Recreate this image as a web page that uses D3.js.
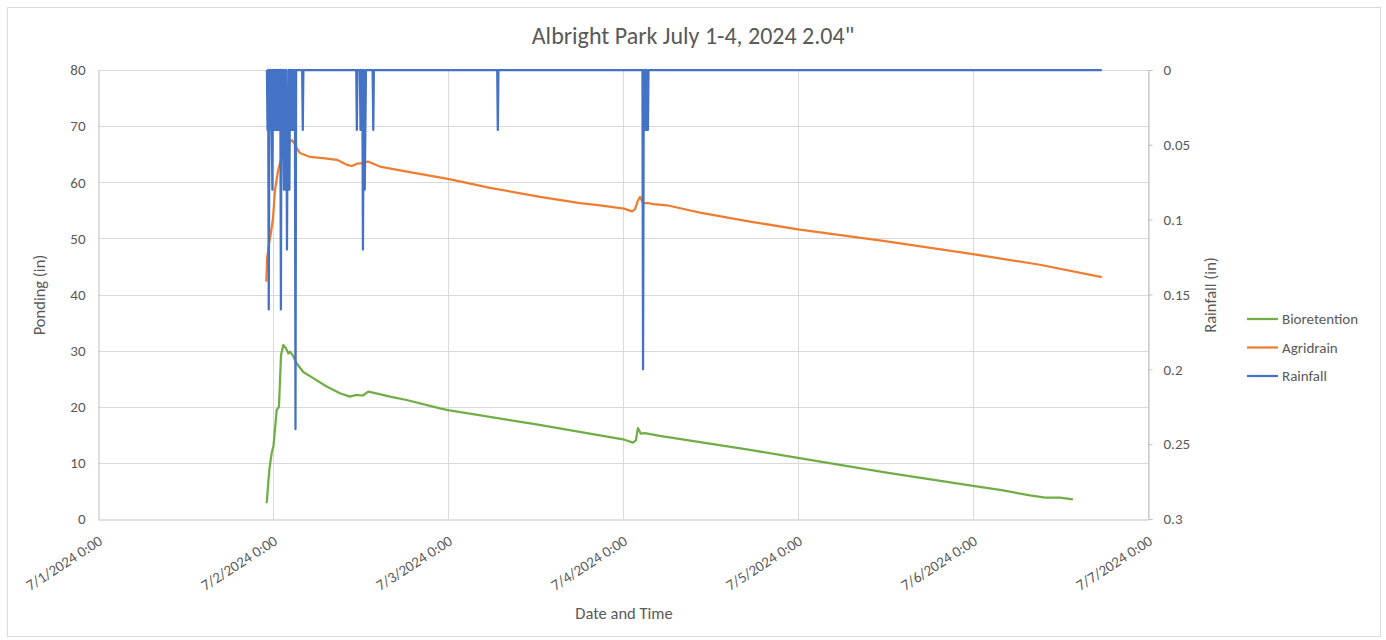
<!DOCTYPE html>
<html>
<head>
<meta charset="utf-8">
<script src="https://cdn.jsdelivr.net/npm/d3@7"></script>
<style>
  html, body { margin: 0; padding: 0; background: #fff; }
  svg { display: block; font-family: Calibri, Carlito, Lato, "Liberation Sans", sans-serif; }
</style>
</head>
<body>
<svg id="chart" width="1386" height="640"></svg>
<script>
// ---------- DATA ----------
const chartTitle = 'Albright Park July 1-4, 2024 2.04"';
const xTickDates = ["7/1/2024 0:00","7/2/2024 0:00","7/3/2024 0:00","7/4/2024 0:00","7/5/2024 0:00","7/6/2024 0:00","7/7/2024 0:00"];
const leftTicks = [0,10,20,30,40,50,60,70,80];
const rightTicks = [0,0.05,0.1,0.15,0.2,0.25,0.3];
const seriesNames = ["Bioretention","Agridrain","Rainfall"];

const bioTimes = ["7/1/2024 23:08","7/1/2024 23:21","7/1/2024 23:31","7/1/2024 23:49","7/2/2024 0:04","7/2/2024 0:16","7/2/2024 0:30","7/2/2024 0:49","7/2/2024 1:06","7/2/2024 1:25","7/2/2024 1:47","7/2/2024 2:07","7/2/2024 2:20","7/2/2024 2:42","7/2/2024 3:15","7/2/2024 4:09","7/2/2024 5:31","7/2/2024 7:21","7/2/2024 9:11","7/2/2024 10:33","7/2/2024 11:28","7/2/2024 12:20","7/2/2024 13:04","7/2/2024 13:43","7/2/2024 16:03","7/2/2024 18:20","7/2/2024 22:54","7/3/2024 0:00","7/3/2024 11:56","7/4/2024 0:00","7/4/2024 1:22","7/4/2024 1:46","7/4/2024 2:03","7/4/2024 2:27","7/4/2024 3:00","7/4/2024 5:03","7/4/2024 10:34","7/4/2024 17:25","7/5/2024 0:00","7/5/2024 11:56","7/6/2024 0:00","7/6/2024 3:42","7/6/2024 7:50","7/6/2024 9:53","7/6/2024 11:57","7/6/2024 13:42"];
const bioValues = [2.8,6.4,9.0,11.7,13.0,15.9,19.4,20.0,29.2,31.0,30.4,29.5,29.8,29.2,27.7,26.2,25.1,23.6,22.4,21.8,22.1,22.0,22.7,22.5,21.8,21.2,19.7,19.4,16.9,14.2,13.6,14.0,16.2,15.2,15.3,14.8,13.7,12.3,10.9,8.3,5.9,5.2,4.2,3.8,3.8,3.5];

const agriTimes = ["7/1/2024 23:05","7/1/2024 23:12","7/1/2024 23:27","7/1/2024 23:43","7/2/2024 0:00","7/2/2024 0:16","7/2/2024 0:41","7/2/2024 1:22","7/2/2024 1:55","7/2/2024 2:36","7/2/2024 2:53","7/2/2024 3:18","7/2/2024 3:42","7/2/2024 5:05","7/2/2024 6:51","7/2/2024 8:46","7/2/2024 10:08","7/2/2024 10:49","7/2/2024 11:31","7/2/2024 12:20","7/2/2024 13:01","7/2/2024 14:40","7/2/2024 18:22","7/3/2024 0:00","7/3/2024 5:46","7/3/2024 12:37","7/3/2024 18:07","7/3/2024 20:51","7/4/2024 0:09","7/4/2024 1:15","7/4/2024 1:39","7/4/2024 2:04","7/4/2024 2:20","7/4/2024 2:45","7/4/2024 3:26","7/4/2024 4:07","7/4/2024 6:02","7/4/2024 8:47","7/4/2024 10:34","7/4/2024 17:25","7/5/2024 0:00","7/5/2024 11:56","7/6/2024 0:00","7/6/2024 9:10","7/6/2024 17:40"];
const agriValues = [42.3,46.5,49.0,51.0,53.5,58.5,62.0,65.5,67.0,67.5,67.0,66.0,65.2,64.5,64.3,64.0,63.1,62.9,63.3,63.4,63.7,62.8,61.9,60.6,59.0,57.4,56.3,55.9,55.3,54.8,55.2,56.8,57.4,56.3,56.3,56.1,55.9,55.1,54.6,53.0,51.6,49.5,47.2,45.3,43.1];

const rainTimes = [
 "7/1/2024 23:10","7/1/2024 23:15","7/1/2024 23:20","7/1/2024 23:25","7/1/2024 23:30","7/1/2024 23:35","7/1/2024 23:40","7/1/2024 23:45","7/1/2024 23:50","7/1/2024 23:55",
 "7/2/2024 0:00","7/2/2024 0:05","7/2/2024 0:10","7/2/2024 0:15","7/2/2024 0:20","7/2/2024 0:25","7/2/2024 0:30","7/2/2024 0:35","7/2/2024 0:40","7/2/2024 0:45","7/2/2024 0:50","7/2/2024 0:55",
 "7/2/2024 1:00","7/2/2024 1:05","7/2/2024 1:10","7/2/2024 1:15","7/2/2024 1:20","7/2/2024 1:25","7/2/2024 1:30","7/2/2024 1:35","7/2/2024 1:40","7/2/2024 1:45","7/2/2024 1:50","7/2/2024 1:55",
 "7/2/2024 2:00","7/2/2024 2:05","7/2/2024 2:10","7/2/2024 2:15","7/2/2024 2:20","7/2/2024 2:25","7/2/2024 2:30","7/2/2024 2:35","7/2/2024 2:40","7/2/2024 2:45","7/2/2024 2:50",
 "7/2/2024 3:00","7/2/2024 3:05","7/2/2024 3:10","7/2/2024 4:00","7/2/2024 4:05","7/2/2024 4:10",
 "7/2/2024 11:25","7/2/2024 11:30","7/2/2024 11:35","7/2/2024 11:55","7/2/2024 12:00","7/2/2024 12:05","7/2/2024 12:10","7/2/2024 12:15","7/2/2024 12:20","7/2/2024 12:25","7/2/2024 12:30","7/2/2024 12:35","7/2/2024 12:40","7/2/2024 12:45",
 "7/2/2024 13:40","7/2/2024 13:45","7/2/2024 13:50",
 "7/3/2024 6:45","7/3/2024 6:50","7/3/2024 6:55",
 "7/4/2024 2:40","7/4/2024 2:45","7/4/2024 2:50","7/4/2024 2:55","7/4/2024 3:00","7/4/2024 3:05","7/4/2024 3:10","7/4/2024 3:15","7/4/2024 3:20","7/4/2024 3:25","7/4/2024 3:30",
 "7/6/2024 17:40"];
const rainValues = [
 0,0.04,0,0.16,0.04,0,0.04,0,0.04,0.08,
 0,0.04,0,0.04,0,0.04,0,0.04,0,0.04,0,0.04,
 0,0.16,0,0.04,0,0.04,0.08,0,0.08,0.04,0,0.12,
 0.04,0.08,0,0.08,0,0.04,0,0.04,0,0.04,0,
 0,0.24,0,0,0.04,0,
 0,0.04,0,0,0.04,0,0.04,0,0.12,0.04,0,0.08,0.04,0,
 0,0.04,0,
 0,0.04,0,
 0,0.2,0.04,0,0.04,0,0.04,0,0.04,0.04,0,
 0];

// ---------- CHART ----------
const parse = d3.timeParse("%m/%d/%Y %H:%M");
const fmt = d3.timeFormat("%-m/%-d/%Y %-H:%M");
const svg = d3.select("#chart");
const W = 1386, H = 640;
const plot = {left: 98, right: 1148, top: 70, bottom: 519};
const textColor = "#595959";
const gridColor = "#d9d9d9";
const fontFam = "Calibri, Carlito, Lato, 'Liberation Sans', sans-serif";
const colors = {Bioretention: "#70AD47", Agridrain: "#ED7D31", Rainfall: "#4472C4"};

svg.append("rect").attr("x", 7.5).attr("y", 7.5).attr("width", W - 13).attr("height", H - 11)
  .attr("fill", "#fff").attr("stroke", gridColor);

const x = d3.scaleTime().domain([parse(xTickDates[0]), parse(xTickDates[xTickDates.length - 1])]).range([plot.left, plot.right]);
const yL = d3.scaleLinear().domain([0, 80]).range([plot.bottom, plot.top]);
const yR = d3.scaleLinear().domain([0, 0.3]).range([plot.top, plot.bottom]);

// gridlines
const g = svg.append("g");
g.selectAll(".hg").data(leftTicks.slice(1)).join("line")
  .attr("x1", plot.left).attr("x2", plot.right)
  .attr("y1", d => Math.round(yL(d)) + 0.5).attr("y2", d => Math.round(yL(d)) + 0.5)
  .attr("stroke", gridColor).attr("stroke-width", 1);
g.selectAll(".vg").data(xTickDates.slice(1)).join("line")
  .attr("x1", d => Math.round(x(parse(d))) + 0.5).attr("x2", d => Math.round(x(parse(d))) + 0.5)
  .attr("y1", plot.top).attr("y2", plot.bottom)
  .attr("stroke", gridColor).attr("stroke-width", 1);

// axes
const axL = svg.append("g").attr("transform", `translate(${plot.left + 0.5},0)`)
  .call(d3.axisLeft(yL).tickValues(leftTicks).tickSize(0).tickPadding(13).tickFormat(d3.format("d")));
const axR = svg.append("g").attr("transform", `translate(${plot.right + 0.5},0)`)
  .call(d3.axisRight(yR).tickValues(rightTicks).tickSize(4).tickPadding(11).tickFormat(d => String(+d.toFixed(2))));
const axB = svg.append("g").attr("transform", `translate(0,${plot.bottom + 0.5})`)
  .call(d3.axisBottom(x).tickValues(xTickDates.map(parse)).tickSize(0).tickFormat(fmt));

[axL, axR, axB].forEach(a => {
  a.select(".domain").attr("stroke", "#bfbfbf").attr("stroke-width", 1);
  a.selectAll(".tick line").attr("stroke", "#bfbfbf");
  a.selectAll("text").attr("fill", textColor).style("font-size", "15px").style("font-family", fontFam);
});
axB.selectAll(".tick text")
  .attr("text-anchor", "end")
  .attr("dy", 0).attr("y", 0)
  .attr("transform", "translate(5,24) rotate(-33)");

// series lines
function series(times, values) {
  return times.map((t, i) => ({t: parse(t), v: values[i]}));
}
const lineL = d3.line().x(d => x(d.t)).y(d => yL(d.v));
const lineR = d3.line().x(d => x(d.t)).y(d => yR(d.v));

svg.append("path").datum(series(bioTimes, bioValues)).attr("d", lineL)
  .attr("fill", "none").attr("stroke", colors.Bioretention).attr("stroke-width", 2.25).attr("stroke-linejoin", "round");
svg.append("path").datum(series(agriTimes, agriValues)).attr("d", lineL)
  .attr("fill", "none").attr("stroke", colors.Agridrain).attr("stroke-width", 2.25).attr("stroke-linejoin", "round");
svg.append("path").datum(series(rainTimes, rainValues)).attr("d", lineR)
  .attr("fill", "none").attr("stroke", colors.Rainfall).attr("stroke-width", 2.25).attr("stroke-linejoin", "round");

// title
svg.append("text").attr("x", 693).attr("y", 44).attr("text-anchor", "middle")
  .attr("fill", textColor).style("font-size", "24px").text(chartTitle);

// axis titles
svg.append("text").attr("transform", "translate(45,295) rotate(-90)").attr("text-anchor", "middle")
  .attr("fill", textColor).style("font-size", "16.5px").text("Ponding (in)");
svg.append("text").attr("transform", "translate(1216,295) rotate(-90)").attr("text-anchor", "middle")
  .attr("fill", textColor).style("font-size", "16.5px").text("Rainfall (in)");
svg.append("text").attr("x", 624).attr("y", 619).attr("text-anchor", "middle")
  .attr("fill", textColor).style("font-size", "16.5px").text("Date and Time");

// legend
const leg = svg.append("g");
seriesNames.forEach((name, i) => {
  const yy = 319 + i * 28.5;
  leg.append("line").attr("x1", 1247).attr("x2", 1278).attr("y1", yy).attr("y2", yy)
    .attr("stroke", colors[name]).attr("stroke-width", 2.25);
  leg.append("text").attr("x", 1282).attr("y", yy + 5).attr("fill", textColor)
    .style("font-size", "15px").text(name);
});
</script>
</body>
</html>
